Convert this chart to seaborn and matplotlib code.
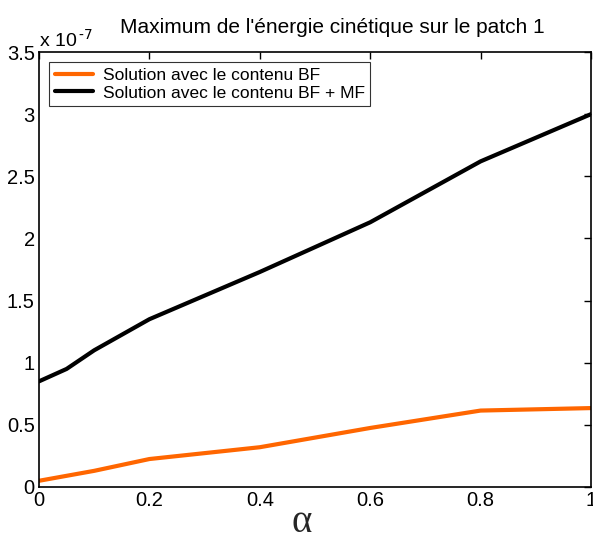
import matplotlib
matplotlib.use('Agg')
import matplotlib.pyplot as plt
import seaborn as sns
import pandas as pd

alpha = [0, 0.05, 0.1, 0.2, 0.4, 0.6, 0.8, 1.0]
energy_bf = [0.05, 0.09, 0.13, 0.225, 0.32, 0.475, 0.615, 0.635]
energy_bf_mf = [0.85, 0.95, 1.10, 1.35, 1.73, 2.13, 2.62, 3.00]
labels = ['Solution avec le contenu BF', 'Solution avec le contenu BF + MF']
colors = ['#ff6600', 'black']

sns.set_style('white')
plt.rcParams['font.family'] = ['Liberation Sans', 'DejaVu Sans']
plt.rcParams['text.color'] = 'black'

df = pd.DataFrame({
    'alpha': alpha * 2,
    'energy': energy_bf + energy_bf_mf,
    'serie': [labels[0]] * len(alpha) + [labels[1]] * len(alpha),
})

fig = plt.figure(figsize=(5.93, 5.42), dpi=100)
ax = fig.add_axes([39 / 593, 55 / 542, 552 / 593, 435 / 542])
sns.lineplot(data=df, x='alpha', y='energy', hue='serie', palette=colors,
             linewidth=3, ax=ax, sort=False)

ax.set_xlim(0, 1)
ax.set_ylim(0, 3.5)
ax.set_xticks([0, 0.2, 0.4, 0.6, 0.8, 1])
ax.set_xticklabels(['0', '0.2', '0.4', '0.6', '0.8', '1'])
ax.set_yticks([0, 0.5, 1, 1.5, 2, 2.5, 3, 3.5])
ax.set_yticklabels(['0', '0.5', '1', '1.5', '2', '2.5', '3', '3.5'])
ax.tick_params(direction='in', length=5, width=1, top=True, right=True,
               labelsize=14.5, colors='black', pad=3)
for s in ax.spines.values():
    s.set_color('black')
    s.set_linewidth(1.2)

ax.set_xlabel('α', fontsize=28, family='Liberation Serif')
ax.xaxis.set_label_coords(0.476, -0.038)
ax.set_ylabel('')
ax.set_title("Maximum de l'énergie cinétique sur le patch 1", fontsize=15,
             pad=14, x=0.531)
ax.text(0, 1.003, r'x 10$^{\,\text{-}7}$', transform=ax.transAxes, fontsize=14,
        ha='left', va='bottom')

leg = ax.legend(loc='upper left', fontsize=12.5, frameon=True, fancybox=False,
                edgecolor='black', borderpad=0.3, handlelength=2.2,
                labelspacing=0.15, borderaxespad=0.6, handletextpad=0.6)
leg.get_frame().set_linewidth(0.8)
for line in leg.get_lines():
    line.set_linewidth(3)

fig.savefig('out.png', dpi=100)
